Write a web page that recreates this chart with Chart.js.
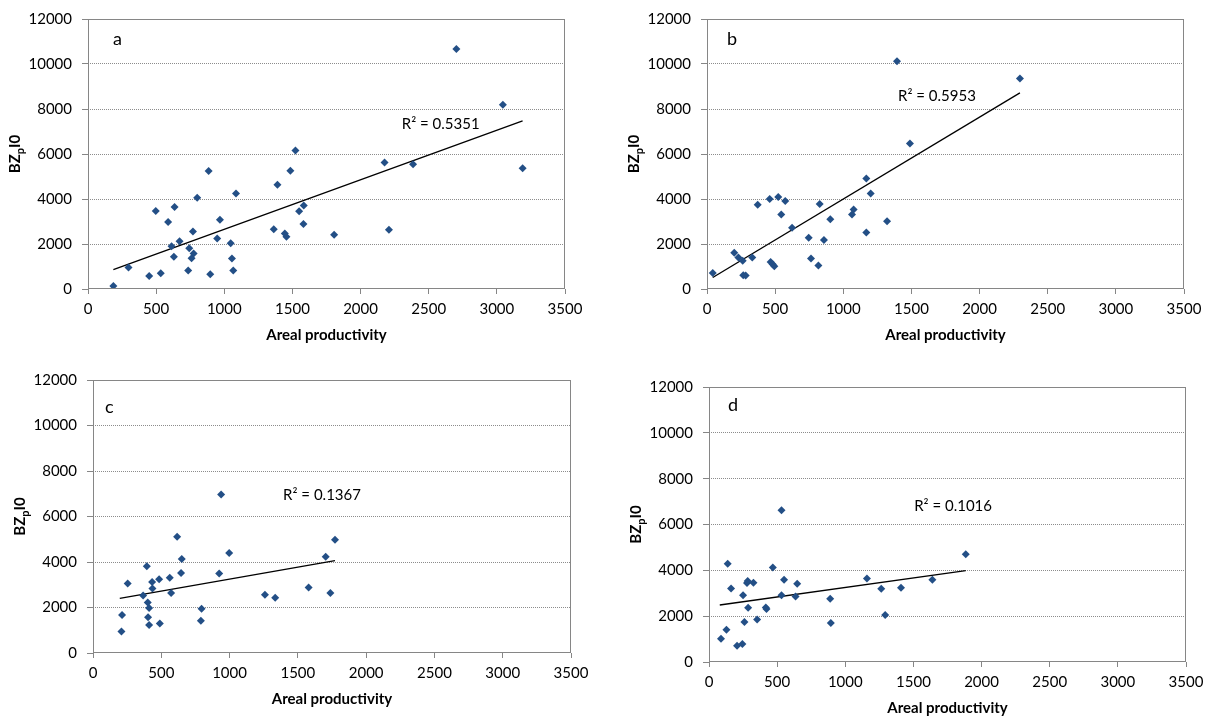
<!DOCTYPE html>
<html>
<head>
<meta charset="utf-8">
<style>
  body { margin: 0; background: #fff; }
  #wrap { position: relative; width: 1212px; height: 722px; }
  canvas { position: absolute; left: 0; top: 0; }
</style>
</head>
<body>
<div id="wrap">
  <canvas id="ca" width="1212" height="722"></canvas>
  <canvas id="cb" width="1212" height="722"></canvas>
  <canvas id="cc" width="1212" height="722"></canvas>
  <canvas id="cd" width="1212" height="722"></canvas>
</div>
<script src="https://cdn.jsdelivr.net/npm/chart.js"></script>
<script>
// tick labels
const xTicks = [0, 500, 1000, 1500, 2000, 2500, 3000, 3500];
const yTicks = [0, 2000, 4000, 6000, 8000, 10000, 12000];

// panel a
const aX = [186, 297, 449, 534, 497, 588, 635, 613, 630, 672, 735, 743, 760, 775, 770, 801, 885, 897, 948, 968,
            1047, 1056, 1066, 1086, 1363, 1390, 1444, 1456, 1485, 1522, 1549, 1583, 1581, 1806, 2176, 2208, 2385, 2703, 3044, 3189];
const aY = [130, 960, 580, 700, 3470, 2980, 3650, 1900, 1430, 2120, 820, 1810, 1370, 1580, 2560, 4060, 5240, 660, 2250, 3080,
            2030, 1360, 820, 4240, 2660, 4630, 2470, 2320, 5260, 6160, 3460, 3710, 2890, 2410, 5620, 2630, 5550, 10670, 8190, 5370];
const aTrendX = [186, 3189];
const aTrendY = [862, 7476];

// panel b
const bX = [42, 200, 230, 262, 266, 284, 332, 372, 460, 467, 482, 494, 523, 545, 574, 624, 746, 763, 817, 827,
            858, 905, 1064, 1076, 1169, 1169, 1201, 1321, 1394, 1489, 2296];
const bY = [715, 1610, 1400, 1260, 610, 600, 1400, 3750, 4000, 1200, 1100, 1010, 4090, 3310, 3910, 2720, 2280, 1360, 1050, 3780,
            2180, 3100, 3310, 3530, 4910, 2510, 4250, 3010, 10120, 6470, 9360];
const bTrendX = [42, 2296];
const bTrendY = [511, 8716];

// panel c
const cX = [208, 213, 254, 367, 394, 401, 411, 403, 411, 433, 435, 484, 489, 562, 572, 616, 650, 645, 795, 790,
            924, 938, 997, 1259, 1334, 1579, 1704, 1738, 1772];
const cY = [940, 1670, 3050, 2530, 3810, 2220, 1980, 1570, 1230, 3120, 2830, 3240, 1300, 3310, 2640, 5110, 4130, 3520, 1950, 1420,
            3500, 6970, 4400, 2560, 2430, 2880, 4230, 2640, 4980];
const cTrendX = [196, 1772];
const cTrendY = [2400, 4058];

// panel d
const dX = [88, 128, 137, 162, 206, 245, 250, 260, 279, 284, 287, 326, 353, 417, 422, 468, 532, 532, 551, 635,
            647, 889, 894, 1159, 1264, 1293, 1409, 1639, 1884];
const dY = [1020, 1410, 4290, 3210, 710, 790, 2910, 1750, 3450, 3540, 2370, 3460, 1850, 2380, 2310, 4120, 6620, 2910, 3590, 2860,
            3420, 2760, 1700, 3640, 3200, 2050, 3240, 3590, 4700];
const dTrendX = [79, 1884];
const dTrendY = [2488, 3985];

const r2Labels = ['R\u00B2 = 0.5351', 'R\u00B2 = 0.5953', 'R\u00B2 = 0.1367', 'R\u00B2 = 0.1016'];
const letters = ['a', 'b', 'c', 'd'];

// layout of each panel (plot area in page pixels) + label spots
const panels = [
  { id: 'ca', x: aX, y: aY, tx: aTrendX, ty: aTrendY, box: [88, 565, 15, 289],  r2: [2588, 7330], let: [30, 20] },
  { id: 'cb', x: bX, y: bY, tx: bTrendX, ty: bTrendY, box: [707, 1184, 15, 289], r2: [1687, 8585], let: [25, 20] },
  { id: 'cc', x: cX, y: cY, tx: cTrendX, ty: cTrendY, box: [93, 571, 380, 653],  r2: [1677, 6959], let: [17, 27] },
  { id: 'cd', x: dX, y: dY, tx: dTrendX, ty: dTrendY, box: [709, 1186, 387, 662], r2: [1791, 6779], let: [24, 18] }
];

Chart.defaults.font.family = 'Lato, "Open Sans", sans-serif';
Chart.defaults.font.size = 15;
Chart.defaults.color = '#000';

const AXIS = '#868686';
const YW = 60, XH = 40;

const decor = {
  id: 'decor',
  afterDraw(chart, args, o) {
    const { ctx, chartArea: ca } = chart;
    const sx = chart.scales.x, sy = chart.scales.y;
    ctx.save();
    // frame round the plot area
    ctx.strokeStyle = AXIS;
    ctx.lineWidth = 1;
    const l = Math.round(ca.left) + 0.5, t = Math.round(ca.top) + 0.5;
    const r = Math.round(ca.right) - 0.5, b = Math.round(ca.bottom) - 0.5;
    ctx.strokeRect(l, t, r - l, b - t);

    ctx.fillStyle = '#000';
    ctx.textBaseline = 'middle';
    // panel letter
    ctx.font = '18px Lato, sans-serif';
    ctx.textAlign = 'left';
    ctx.fillText(o.letter, ca.left + o.let[0] - 5, ca.top + o.let[1]);
    // R squared
    ctx.font = '15px Lato, sans-serif';
    ctx.textAlign = 'center';
    ctx.fillText(o.r2text, sx.getPixelForValue(o.r2[0]), sy.getPixelForValue(o.r2[1]));
    // x title
    ctx.font = 'bold 15px Lato, sans-serif';
    ctx.fillText('Areal productivity', (ca.left + ca.right) / 2, ca.bottom + 46);
    // y title with subscript
    ctx.translate(ca.left - 73, (ca.top + ca.bottom) / 2);
    ctx.rotate(-Math.PI / 2);
    const big = 'bold 15px Lato, sans-serif', small = 'bold 11px Lato, sans-serif';
    ctx.font = big;
    const w1 = ctx.measureText('BZ').width, w3 = ctx.measureText('I0').width;
    ctx.font = small;
    const w2 = ctx.measureText('p').width;
    const x0 = -(w1 + w2 + w3) / 2;
    ctx.textAlign = 'left';
    ctx.textBaseline = 'alphabetic';
    ctx.font = big; ctx.fillText('BZ', x0, 5);
    ctx.font = small; ctx.fillText('p', x0 + w1, 9);
    ctx.font = big; ctx.fillText('I0', x0 + w1 + w2, 5);
    ctx.restore();
  }
};

panels.forEach((p, i) => {
  const [L, R, T, B] = p.box;
  const pts = p.x.map((v, k) => ({ x: v, y: p.y[k] }));
  const trend = p.tx.map((v, k) => ({ x: v, y: p.ty[k] }));
  new Chart(document.getElementById(p.id), {
    type: 'scatter',
    data: {
      datasets: [
        { data: pts, pointStyle: 'rectRot', pointRadius: 4, pointBorderWidth: 0,
          backgroundColor: '#234f86', borderColor: '#234f86' },
        { type: 'line', data: trend, borderColor: '#000', borderWidth: 1.3, pointRadius: 0, fill: false }
      ]
    },
    options: {
      responsive: false,
      animation: false,
      events: [],
      layout: { padding: { left: L - YW, right: 1212 - R, top: T, bottom: 722 - B - XH } },
      plugins: {
        legend: { display: false },
        tooltip: { enabled: false },
        decor: { letter: letters[i], r2text: r2Labels[i], r2: p.r2, let: p.let }
      },
      scales: {
        x: {
          type: 'linear', min: 0, max: 3500,
          afterFit(s) { s.height = XH; },
          afterBuildTicks(s) { s.ticks = xTicks.map(v => ({ value: v })); },
          grid: { drawOnChartArea: false, drawTicks: true, tickLength: 5, tickColor: AXIS },
          border: { display: false },
          ticks: { padding: 6, maxRotation: 0, callback: v => String(v) }
        },
        y: {
          type: 'linear', min: 0, max: 12000,
          afterFit(s) { s.width = YW; },
          afterBuildTicks(s) { s.ticks = yTicks.map(v => ({ value: v })); },
          grid: {
            color: c => (c.tick && (c.tick.value === 0 || c.tick.value === 12000)) ? 'rgba(0,0,0,0)' : '#8c8c8c',
            tickColor: AXIS, tickLength: 6, tickBorderDash: []
          },
          border: { display: false, dash: [1, 1] },
          ticks: { padding: 10, callback: v => String(v) }
        }
      }
    },
    plugins: [decor]
  });
});
</script>
</body>
</html>
